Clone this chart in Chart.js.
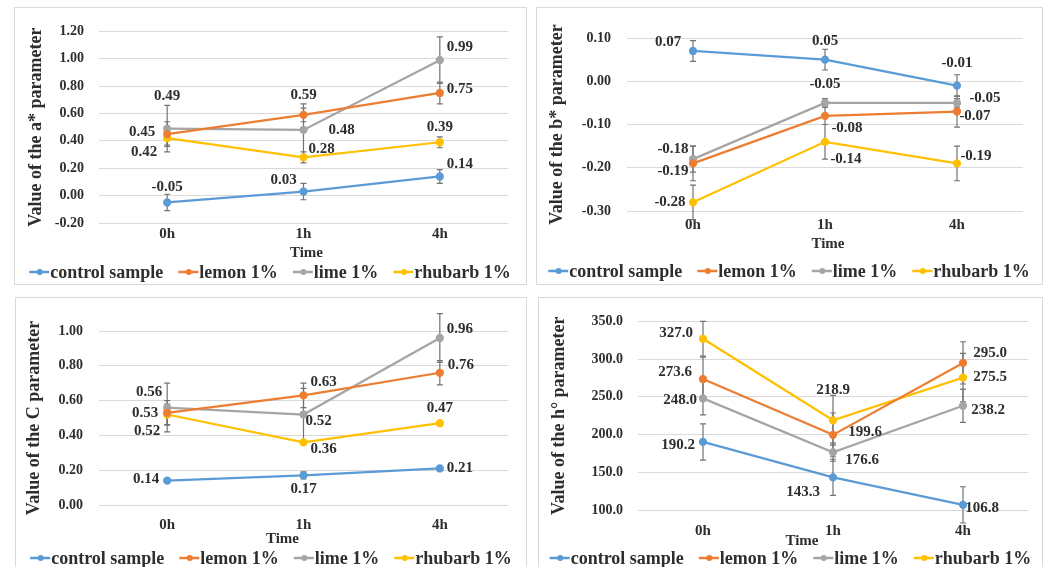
<!DOCTYPE html>
<html>
<head>
<meta charset="utf-8">
<script src="https://cdn.jsdelivr.net/npm/chart.js@4/dist/chart.umd.min.js"></script>
<style>
  body { margin: 0; background: #fff; width: 1051px; height: 567px; overflow: hidden; position: relative; }
  .box { position: absolute; border: 1px solid #d9d9d9; box-sizing: border-box; }
  canvas { position: absolute; }
</style>
</head>
<body>
<div class="box" style="left:14px;top:7px;width:513px;height:278px"></div>
<div class="box" style="left:536px;top:7px;width:507px;height:278px"></div>
<div class="box" style="left:15px;top:297px;width:512px;height:290px"></div>
<div class="box" style="left:538px;top:297px;width:505px;height:290px"></div>
<canvas id="c1" width="510" height="275" style="left:15px;top:8px"></canvas>
<canvas id="c2" width="504" height="275" style="left:537px;top:8px"></canvas>
<canvas id="c3" width="510" height="269" style="left:16px;top:298px"></canvas>
<canvas id="c4" width="503" height="269" style="left:539px;top:298px"></canvas>
<script>
// data
const times = ["0h", "1h", "4h"]
const seriesNames = ["control sample", "lemon 1%", "lime 1%", "rhubarb 1%"]
const seriesColors = ["#5b9bd5", "#ed7d31", "#a5a5a5", "#ffc000"]

const aValues = [[-0.05, 0.03, 0.14], [0.45, 0.59, 0.75], [0.49, 0.48, 0.99], [0.42, 0.28, 0.39]]
const aErrors = [[0.06, 0.06, 0.05], [0.09, 0.05, 0.08], [0.17, 0.19, 0.17], [0.05, 0.04, 0.04]]

const bValues = [[0.07, 0.05, -0.01], [-0.19, -0.08, -0.07], [-0.18, -0.05, -0.05], [-0.28, -0.14, -0.19]]
const bErrors = [[0.024, 0.024, 0.025], [0.04, 0.02, 0.036], [0.03, 0.01, 0.01], [0.04, 0.04, 0.04]]

const cValues = [[0.14, 0.17, 0.21], [0.53, 0.63, 0.76], [0.56, 0.52, 0.96], [0.52, 0.36, 0.47]]
const cErrors = [[0.01, 0.02, 0.01], [0.07, 0.07, 0.07], [0.14, 0.15, 0.14], [0.06, 0, 0]]

const hValues = [[190.2, 143.3, 106.8], [273.6, 199.6, 295.0], [248.0, 176.6, 238.2], [327.0, 218.9, 275.5]]
const hErrors = [[24, 24, 24], [29, 29, 28], [22, 12, 22], [23, 33, 32]]

// where each value label sits relative to its point [dx, dy]
const aLabelPos = [[[0, -15], [-20, -11], [20, -12]], [[-25, -2], [0, -20], [20, -4]], [[0, -32], [38, 0], [20, -13]], [[-23, 14], [18, -8], [0, -15]]]
const bLabelPos = [[[-25, -9], [0, -19], [0, -22]], [[-20, 8], [22, 12], [18, 5]], [[-20, -10], [0, -19], [28, -5]], [[-23, 0], [21, 17], [19, -7]]]
const cLabelPos = [[[-21, -2], [0, 14], [20, 0]], [[-22, 0], [20, -13], [21, -8]], [[-18, -15], [15, 7], [20, -9]], [[-20, 17], [20, 7], [0, -15]]]
const hLabelPos = [[[-25, 3], [-30, 15], [19, 3]], [[-28, -7], [32, -3], [27, -10]], [[-23, 2], [29, 8], [25, 4]], [[-27, -6], [0, -30], [27, 0]]]

const FONT = "'Liberation Serif', 'Times New Roman', serif"
const TEXT = "#2e2e2e"

const extras = {
    id: "extras",
    beforeDatasetsDraw(chart) {
        const ctx = chart.ctx
        const yScale = chart.scales.y
        ctx.save()
        ctx.strokeStyle = "#737373"
        ctx.lineWidth = 1.2
        chart.data.datasets.forEach((ds, i) => {
            chart.getDatasetMeta(i).data.forEach((pt, j) => {
                const err = ds.errors[j]
                if (!err) return
                const top = yScale.getPixelForValue(ds.data[j] + err)
                const bot = yScale.getPixelForValue(ds.data[j] - err)
                ctx.beginPath()
                ctx.moveTo(pt.x, top); ctx.lineTo(pt.x, bot)
                ctx.moveTo(pt.x - 3, top); ctx.lineTo(pt.x + 3, top)
                ctx.moveTo(pt.x - 3, bot); ctx.lineTo(pt.x + 3, bot)
                ctx.stroke()
            })
        })
        ctx.restore()
    },
    afterDatasetsDraw(chart) {
        const ctx = chart.ctx
        const dec = chart.options.plugins.extras.decimals
        ctx.save()
        ctx.font = "bold 15px " + FONT
        ctx.fillStyle = TEXT
        ctx.textAlign = "center"
        ctx.textBaseline = "middle"
        chart.data.datasets.forEach((ds, i) => {
            chart.getDatasetMeta(i).data.forEach((pt, j) => {
                const off = ds.labelPos[j]
                ctx.fillText(ds.data[j].toFixed(dec), pt.x + off[0], pt.y + off[1])
            })
        })
        ctx.restore()
    },
    afterDraw(chart) {
        const ctx = chart.ctx
        const o = chart.options.plugins.extras
        const area = chart.chartArea
        ctx.save()
        // x axis title, Excel put it a little off centre on some panels
        ctx.font = "bold 15px " + FONT
        ctx.fillStyle = TEXT
        ctx.textAlign = "center"
        ctx.textBaseline = "middle"
        ctx.fillText("Time", (area.left + area.right) / 2 + o.timeDx, o.timeY)

        // legend: line with a dot, then the name
        ctx.font = "bold 18px " + FONT
        ctx.textAlign = "left"
        const sym = 21, gap = 15
        const widths = chart.data.datasets.map(ds => ctx.measureText(ds.label).width)
        const total = widths.reduce((s, w) => s + w + sym, 0) + gap * (widths.length - 1)
        let x = (chart.width - total) / 2
        chart.data.datasets.forEach((ds, i) => {
            ctx.strokeStyle = ds.borderColor
            ctx.lineWidth = 2.5
            ctx.beginPath()
            ctx.moveTo(x, o.legendY); ctx.lineTo(x + sym - 1, o.legendY)
            ctx.stroke()
            ctx.fillStyle = ds.borderColor
            ctx.beginPath()
            ctx.arc(x + sym / 2, o.legendY, 3, 0, Math.PI * 2)
            ctx.fill()
            ctx.fillStyle = TEXT
            ctx.fillText(ds.label, x + sym, o.legendY + 1)
            x += sym + widths[i] + gap
        })
        ctx.restore()
    }
}

function makeChart(id, values, errors, labelPos, p) {
    const canvas = document.getElementById(id)
    const datasets = values.map((vals, i) => ({
        label: seriesNames[i],
        data: vals,
        errors: errors[i],
        labelPos: labelPos[i],
        borderColor: seriesColors[i],
        backgroundColor: seriesColors[i],
        borderWidth: 2.25,
        pointRadius: 3,
        pointHoverRadius: 3,
        tension: 0
    }))
    return new Chart(canvas, {
        type: "line",
        data: { labels: times, datasets: datasets },
        plugins: [extras],
        options: {
            responsive: false,
            animation: false,
            devicePixelRatio: 1,
            layout: { padding: { left: 0, top: p.top, right: p.right, bottom: p.bottom } },
            plugins: {
                legend: { display: false },
                tooltip: { enabled: false },
                extras: { decimals: p.dec, legendY: p.legendY, timeY: p.timeY, timeDx: p.timeDx }
            },
            scales: {
                x: {
                    offset: true,
                    grid: { display: false, drawTicks: false },
                    border: { display: false },
                    ticks: { color: TEXT, padding: p.xPad, font: { family: FONT, size: 15, weight: "bold" } },
                    afterFit: s => { s.height = p.xHeight }
                },
                y: {
                    min: p.min, max: p.max,
                    grid: { color: "#d9d9d9", lineWidth: 1, drawTicks: false },
                    border: { display: false },
                    ticks: {
                        stepSize: p.step, color: TEXT, padding: p.yPad,
                        font: { family: FONT, size: 14, weight: "bold" },
                        callback: v => (Math.abs(v) < 1e-9 ? 0 : Number(v)).toFixed(p.dec)
                    },
                    title: { display: true, text: p.yTitle, color: TEXT, padding: { top: p.titlePad, bottom: 0 }, font: { family: FONT, size: 18, weight: "bold" } },
                    afterFit: s => { s.width = p.yWidth }
                }
            }
        }
    })
}

makeChart("c1", aValues, aErrors, aLabelPos, {
    min: -0.2, max: 1.2, step: 0.2, dec: 2, yTitle: "Value of the a* parameter",
    top: 21, right: 17, bottom: 21, yWidth: 84, yPad: 15, titlePad: 11, xPad: 2, xHeight: 39,
    timeY: 245, timeDx: 3, legendY: 264
})
makeChart("c2", bValues, bErrors, bLabelPos, {
    min: -0.3, max: 0.1, step: 0.1, dec: 2, yTitle: "Value of the b* parameter",
    top: 30, right: 18, bottom: 30, yWidth: 90, yPad: 16, titlePad: 10, xPad: 5, xHeight: 42,
    timeY: 236, timeDx: 3, legendY: 263
})
makeChart("c3", cValues, cErrors, cLabelPos, {
    min: 0, max: 1.0, step: 0.2, dec: 2, yTitle: "Value of the C parameter",
    top: 33, right: 18, bottom: 19, yWidth: 83, yPad: 16, titlePad: 8, xPad: 11, xHeight: 43,
    timeY: 241, timeDx: -21, legendY: 260
})
makeChart("c4", hValues, hErrors, hLabelPos, {
    min: 100, max: 350, step: 50, dec: 1, yTitle: "Value of the h\u00b0 parameter",
    top: 17, right: 14, bottom: 17, yWidth: 99, yPad: 15, titlePad: 10, xPad: 12, xHeight: 40,
    timeY: 243, timeDx: -31, legendY: 260
})
</script>
</body>
</html>
